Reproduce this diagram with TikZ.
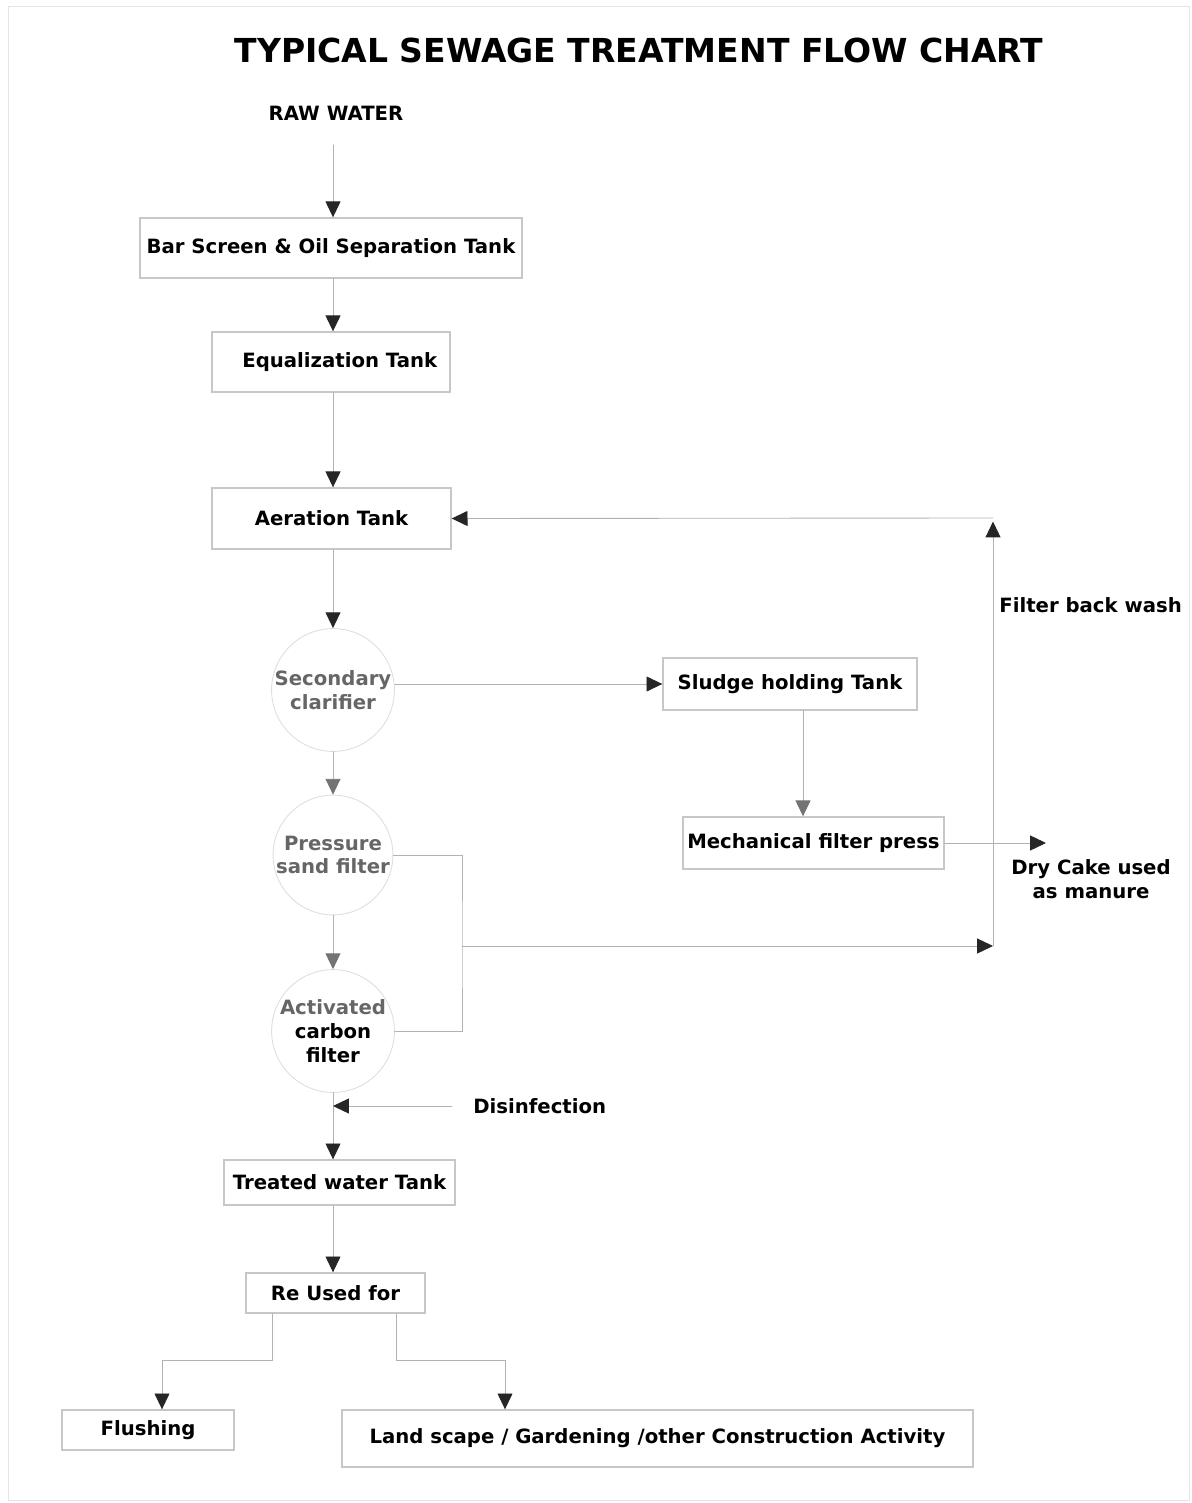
\documentclass[tikz,border=0pt]{standalone}
\usepackage{fontspec}
\setmainfont{DejaVu Sans}
\usetikzlibrary{arrows.meta}

\begin{document}
\begin{tikzpicture}[x=0.02cm, y=-0.02cm, line cap=round,
	every node/.style={font=\bfseries\fontsize{11.2}{13.5}\selectfont, inner sep=0pt},
	box/.style={draw=black!22, line width=0.8pt},
	tank/.style={draw=black!13, line width=0.5pt, circle, align=center, text=black!60},
	line/.style={draw=black!30, line width=0.5pt},
	flow/.style={line, -{Triangle[length=9pt, width=8.5pt, color=black!85]}},
	greyflow/.style={line, -{Triangle[length=9pt, width=8.5pt, color=black!55]}}]

	% frame and page size
	\useasboundingbox (0,0) rectangle (1192,1503);
	\draw[black!10] (8,6) rectangle (1189,1500);

	% constants
	\pgfmathsetmacro{\mainx}{333};
	\coordinate (main) at (\mainx, 0);

	% title and input
	\draw ( 639, 50 ) node[font=\bfseries\fontsize{18.8}{22}\selectfont] (title)
		{TYPICAL SEWAGE TREATMENT FLOW CHART};
	\draw ( 336, 113 ) node (raw) {RAW WATER};

	% main column
	\draw ( 331, 248 ) node[box, minimum width=7.64cm, minimum height=1.2cm] (bar)
		{Bar Screen \& Oil Separation Tank};
	\draw ( 331, 362 ) node[box, minimum width=4.76cm, minimum height=1.2cm] (equal)
		{\hspace{10pt}Equalization Tank};
	\draw ( 331.5, 518.5 ) node[box, minimum width=4.78cm, minimum height=1.22cm] (aeration)
		{Aeration Tank\hspace{6pt}};
	\draw ( \mainx, 690 ) node[tank, minimum size=2.2cm] (clarifier)
		{Secondary\\clarifier};
	\draw ( \mainx, 855 ) node[tank, minimum size=2.12cm] (sand)
		{Pressure\\sand filter};
	\draw ( \mainx, 1031 ) node[tank, minimum size=2.26cm, text=black] (carbon)
		{\textcolor{black!60}{Activated}\\carbon\\filter};
	\draw ( 339.5, 1182.5 ) node[box, minimum width=4.62cm, minimum height=0.9cm] (treated)
		{Treated water Tank};
	\draw ( 335.5, 1293 ) node[box, minimum width=3.58cm, minimum height=0.8cm] (reuse)
		{Re Used for};

	% sludge line
	\draw ( 790, 684 ) node[box, minimum width=5.08cm, minimum height=1.04cm] (sludge)
		{Sludge holding Tank};
	\draw ( 813.5, 843 ) node[box, minimum width=5.22cm, minimum height=1.04cm] (press)
		{Mechanical filter press};
	\draw ( 1091, 879 ) node[align=center] (cake) {Dry Cake used\\as manure};
	\coordinate (cakein) at (1046, 843);

	% end uses
	\draw ( 148, 1430 ) node[box, minimum width=3.44cm, minimum height=0.8cm] (flush)
		{Flushing};
	\draw ( 657.5, 1438.5 ) node[box, minimum width=12.62cm, minimum height=1.14cm] (land)
		{Land scape / Gardening /other Construction Activity};

	% side labels
	\draw ( 473, 1106 ) node[anchor=west] (disinf) {Disinfection};
	\draw ( 999, 605 ) node[anchor=west] (backwash) {Filter back wash};

	% main flow
	\draw[flow] (raw.south -| main) [shorten <=14pt] -- (bar.north -| main);
	\draw[flow] (bar.south -| main) -- (equal.north -| main);
	\draw[flow] (equal.south -| main) -- (aeration.north -| main);
	\draw[flow] (aeration.south -| main) -- (clarifier.north);
	\draw[greyflow] (clarifier.south) -- (sand.north);
	\draw[greyflow] (sand.south) -- (carbon.north);
	\draw[flow] (carbon.south) -- (treated.north -| main);
	\draw[flow] (disinf.west) [shorten <=12pt] -- (disinf.west -| main);
	\draw[flow] (treated.south -| main) -- (reuse.north -| main);

	% sludge flow
	\draw[flow] (sludge.west -| clarifier.east) -- (sludge.west);
	\draw[greyflow] (sludge.south -| 803,0) -- (press.north -| 803,0);
	\draw[flow] (press.east) -- (cakein);

	% back wash loop
	\coordinate (junction) at (462, 946);
	\coordinate (bwlow) at (993, 946);
	\coordinate (bwhigh) at (993, 518);
	\draw[line] (sand.east) -| (junction) |- (carbon.east);
	\draw[flow] (junction) -- (bwlow);
	\draw[flow] (bwlow) -- ([yshift=-2pt]bwhigh);
	\draw[flow] (bwhigh) -- (aeration.east);

	% re use branches
	\coordinate (leftdown) at (272, 1360);
	\coordinate (rightdown) at (396, 1360);
	\coordinate (leftend) at (162, 1360);
	\coordinate (rightend) at (505, 1360);
	\draw[flow] (reuse.south -| leftdown) -- (leftdown) -- (leftend)
		-- (leftend |- flush.north);
	\draw[flow] (reuse.south -| rightdown) -- (rightdown) -- (rightend)
		-- (rightend |- land.north);

\end{tikzpicture}
\end{document}
